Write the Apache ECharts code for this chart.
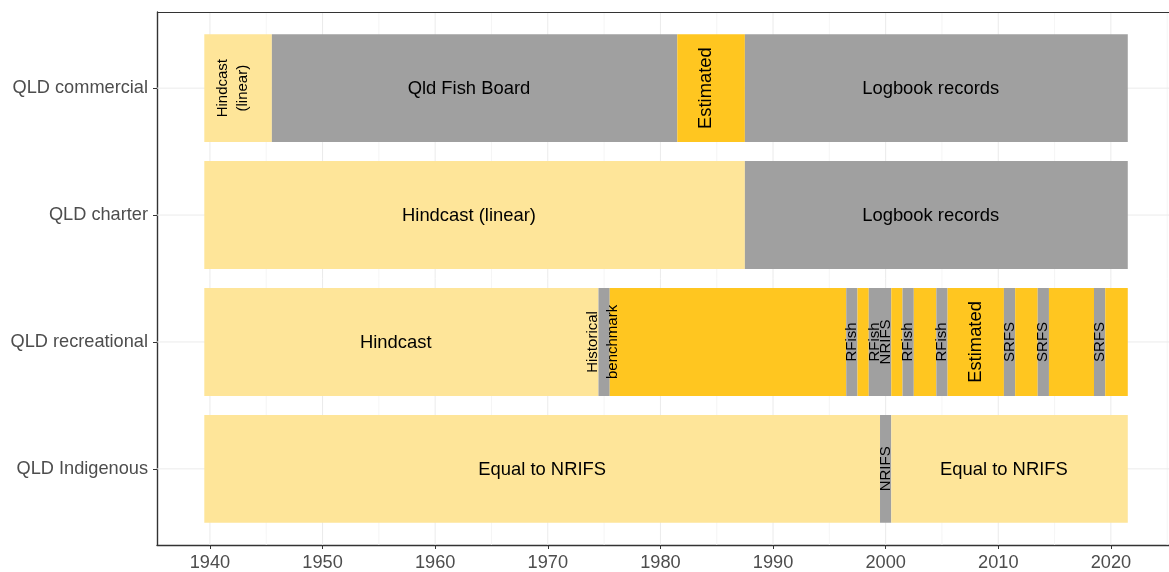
<!DOCTYPE html>
<html>
<head>
<meta charset="utf-8">
<script src="https://cdn.jsdelivr.net/npm/echarts@6/dist/echarts.min.js"></script>
<style>
  html, body { margin: 0; padding: 0; background: #ffffff; }
  #chart { width: 1169px; height: 572px; }
</style>
</head>
<body>
<div id="chart"></div>
<script>
// ---------- data ----------
const categories = ['QLD commercial', 'QLD charter', 'QLD recreational', 'QLD Indigenous'];
const xTickLabels = [1940, 1950, 1960, 1970, 1980, 1990, 2000, 2010, 2020];
const xMinorGrid = [1945, 1955, 1965, 1975, 1985, 1995, 2005, 2015, 2025];

// segment types: 0 = hindcast / equal to (light), 1 = records (grey), 2 = estimated (gold)
// [first year, last year, type]
const commercialSegments = [[1940, 1945, 0], [1946, 1981, 1], [1982, 1987, 2], [1988, 2021, 1]];
const charterSegments = [[1940, 1987, 0], [1988, 2021, 1]];
const recreationalSegments = [
  [1940, 1974, 0], [1975, 1975, 1], [1976, 1996, 2], [1997, 1997, 1], [1998, 1998, 2],
  [1999, 2000, 1], [2001, 2001, 2], [2002, 2002, 1], [2003, 2004, 2], [2005, 2005, 1],
  [2006, 2010, 2], [2011, 2011, 1], [2012, 2013, 2], [2014, 2014, 1], [2015, 2018, 2],
  [2019, 2019, 1], [2020, 2021, 2]
];
const indigenousSegments = [[1940, 1999, 0], [2000, 2000, 1], [2001, 2021, 0]];

// labels: [year position, text, vertical(1)/horizontal(0), small(1)/large(0)]
const commercialLabels = [
  [1942.0, 'Hindcast\n(linear)', 1, 1], [1963.0, 'Qld Fish Board', 0, 0],
  [1984.0, 'Estimated', 1, 0], [2004.0, 'Logbook records', 0, 0]
];
const charterLabels = [[1963.0, 'Hindcast (linear)', 0, 0], [2004.0, 'Logbook records', 0, 0]];
const recreationalLabels = [
  [1956.5, 'Hindcast', 0, 0], [1974.85, 'Historical\nbenchmark', 1, 1],
  [1997, 'RFish', 1, 1], [1999, 'RFish', 1, 1], [2000, 'NRIFS', 1, 1],
  [2002, 'RFish', 1, 1], [2005, 'RFish', 1, 1], [2008, 'Estimated', 1, 0],
  [2011, 'SRFS', 1, 1], [2014, 'SRFS', 1, 1], [2019, 'SRFS', 1, 1]
];
const indigenousLabels = [[1969.5, 'Equal to NRIFS', 0, 0], [2000, 'NRIFS', 1, 1], [2010.5, 'Equal to NRIFS', 0, 0]];

// ---------- build ----------
const typeColors = ['#FEE599', '#A0A0A0', '#FFC620'];
const FONT = '"Liberation Sans", Arial, Helvetica, sans-serif';
const allSegments = [commercialSegments, charterSegments, recreationalSegments, indigenousSegments];
const allLabels = [commercialLabels, charterLabels, recreationalLabels, indigenousLabels];

const tileData = [];
allSegments.forEach((segs, i) => segs.forEach(s => tileData.push([i + 1, s[0], s[1], s[2]])));
const labelData = [], labelMeta = [];
allLabels.forEach((labs, i) => labs.forEach(l => { labelData.push([l[0], i + 1]); labelMeta.push(l); }));

const gridData = [];
xTickLabels.forEach(v => gridData.push([v, 0]));
xMinorGrid.forEach(v => gridData.push([v, 1]));
categories.forEach((c, i) => gridData.push([i + 1, 2]));
gridData.push([0, 3]); // panel top border

const chart = echarts.init(document.getElementById('chart'), null, { renderer: 'canvas' });

const option = {
  animation: false,
  backgroundColor: '#ffffff',
  grid: { left: 157, top: 12, right: 0, bottom: 27, show: false },
  xAxis: {
    type: 'value', min: 1935.3, max: 2025.16,
    axisLine: { show: true, onZero: false, lineStyle: { color: '#333333', width: 1.4 } },
    axisTick: { show: true, customValues: xTickLabels, length: 4, lineStyle: { color: '#333333', width: 1 } },
    axisLabel: { customValues: xTickLabels, color: '#4D4D4D', fontSize: 18.2, fontFamily: FONT, margin: 9,
      formatter: v => String(Math.round(v)) },
    splitLine: { show: false }
  },
  yAxis: {
    type: 'value', inverse: true, min: 0.4, max: 4.6,
    axisLine: { show: true, onZero: false, lineStyle: { color: '#333333', width: 1.4 } },
    axisTick: { show: true, customValues: [1, 2, 3, 4], length: 4, lineStyle: { color: '#333333', width: 1 } },
    axisLabel: {
      customValues: [1, 2, 3, 4], color: '#4D4D4D', fontSize: 18.2, fontFamily: FONT, margin: 9,
      formatter: v => categories[Math.round(v) - 1] || ''
    },
    splitLine: { show: false }
  },
  series: [
    {
      type: 'custom', silent: true, z: 1,
      data: gridData,
      renderItem: function (params, api) {
        const cs = params.coordSys;
        const v = api.value(0), kind = api.value(1);
        if (kind === 3) {
          return { type: 'line', shape: { x1: cs.x, y1: cs.y + 0.5, x2: cs.x + cs.width, y2: cs.y + 0.5 }, style: { stroke: '#333333', lineWidth: 1 } };
        }
        if (kind === 2) {
          const y = api.coord([1940, v])[1];
          return { type: 'line', shape: { x1: cs.x, y1: y, x2: cs.x + cs.width, y2: y }, style: { stroke: '#EBEBEB', lineWidth: 1 } };
        }
        const x = api.coord([v, 1])[0];
        return { type: 'line', shape: { x1: x, y1: cs.y, x2: x, y2: cs.y + cs.height },
          style: { stroke: kind === 0 ? '#EBEBEB' : '#F2F2F2', lineWidth: kind === 0 ? 1 : 0.8 } };
      }
    },
    {
      type: 'custom', silent: true, z: 2,
      data: tileData,
      encode: { x: [1, 2], y: 0 },
      renderItem: function (params, api) {
        const c = api.value(0), s = api.value(1) - 0.5, e = api.value(2) + 0.5, t = api.value(3);
        const p0 = api.coord([s, c]), p1 = api.coord([e, c]);
        const h = Math.abs(api.size([0, 0.85])[1]);
        return { type: 'rect', shape: { x: p0[0], y: p0[1] - h / 2, width: p1[0] - p0[0], height: h },
          style: { fill: typeColors[t] } };
      }
    },
    {
      type: 'custom', silent: true, z: 3,
      data: labelData,
      encode: { x: 0, y: 1 },
      renderItem: function (params, api) {
        const meta = labelMeta[params.dataIndex];
        const p = api.coord([api.value(0), api.value(1)]);
        const small = meta[3] === 1;
        const vertical = meta[2] === 1;
        return {
          type: 'text', x: p[0], y: p[1] + (vertical ? 0 : 1), rotation: vertical ? Math.PI / 2 : 0,
          style: { text: meta[1], fill: '#000000', fontSize: small ? 15 : 18.4, fontFamily: FONT,
            align: 'center', verticalAlign: 'middle', lineHeight: small ? 20 : 22 }
        };
      }
    }
  ]
};
chart.setOption(option);
</script>
</body>
</html>
